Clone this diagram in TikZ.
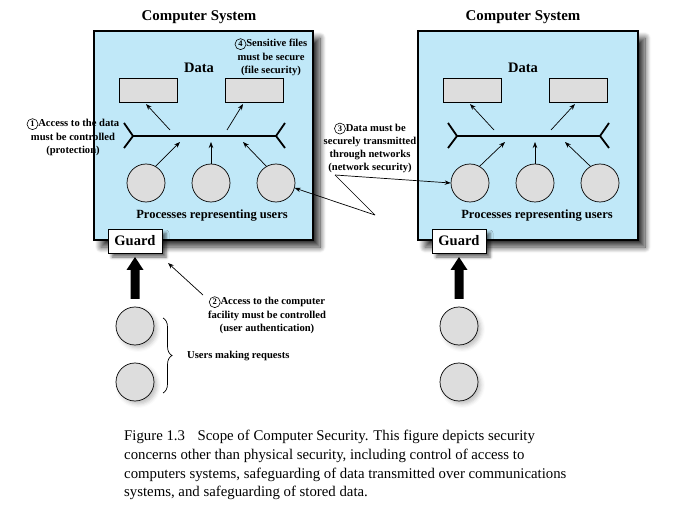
\documentclass[tikz,border=0pt]{standalone}
\usepackage{fontspec}
\setmainfont{Liberation Serif}
\usetikzlibrary{shadows.blur,decorations.pathreplacing,arrows.meta}
\definecolor{sysblue}{RGB}{192,232,248}
\definecolor{lgray}{RGB}{221,221,221}
\newcommand\cnum[1]{\tikz[baseline=(cn.base)]\node[circle,draw,line width=0.6pt,inner sep=0pt,minimum size=11pt,font=\fontsize{8.5}{8.5}\selectfont\bfseries](cn){#1};}
\tikzset{
  compbox/.style={draw,line width=1.6pt,fill=sysblue,minimum width=219pt,minimum height=209pt,inner sep=0pt,
    blur shadow={shadow xshift=7pt,shadow yshift=-7pt,shadow blur radius=6pt,shadow blur steps=12,shadow opacity=80}},
  databox/.style={draw,line width=0.6pt,fill=lgray,minimum width=58pt,minimum height=24pt,inner sep=0pt},
  proc/.style={circle,draw,line width=0.7pt,fill=lgray,minimum size=38pt,inner sep=0pt},
  usr/.style={circle,draw,line width=0.7pt,fill=lgray,minimum size=38pt,inner sep=0pt,
    blur shadow={shadow xshift=3pt,shadow yshift=-3pt,shadow blur radius=4pt,shadow opacity=25}},
  guardbox/.style={draw,line width=0.8pt,fill=white,minimum width=54pt,minimum height=24pt,inner sep=0pt,
    font=\fontsize{14.5}{14.5}\selectfont\bfseries,
    blur shadow={shadow xshift=4pt,shadow yshift=-4pt,shadow blur radius=3pt,shadow opacity=60}},
  title/.style={font=\fontsize{14.9}{14.9}\selectfont\bfseries},
  datalbl/.style={font=\fontsize{14.5}{14.5}\selectfont\bfseries},
  proclbl/.style={font=\fontsize{12.5}{12.5}\selectfont\bfseries},
  note/.style={align=center,font=\fontsize{10.6}{13.2}\selectfont\bfseries,inner sep=0pt},
  bus/.style={line width=1.6pt},
  busarm/.style={line width=1.8pt},
  arr/.style={line width=0.7pt,-{Stealth[length=6pt,width=4.5pt]}},
  thin/.style={line width=0.7pt},
  bigarrow/.style={fill=black,draw=none}
}
\begin{document}
\begin{tikzpicture}[x=1pt,y=-1pt]
\useasboundingbox (0,0) rectangle (673,508);

% ---- Left computer system
\node[compbox] (LS) at (203.5,135.5) {};
\node[title] (LT) at (199,17) {Computer System};
\node[datalbl] (LD) at (199,68) {Data};
\node[databox] (LR1) at (148,90) {};
\node[databox] (LR2) at (254.5,90) {};
\coordinate (LB1) at (133,136);
\coordinate (LB2) at (276,136);
\draw[bus] (LB1) -- (LB2);
\draw[busarm] (124,123) -- (LB1) -- (124,148);
\draw[busarm] (285,123) -- (LB2) -- (285,148);
\node[proc] (LP1) at (146,183) {};
\node[proc] (LP2) at (211,183) {};
\node[proc] (LP3) at (276,183) {};
\coordinate (LU1) at (170,130);
\coordinate (LU2) at (227,130);
\coordinate (LD1) at (180,142);
\coordinate (LD2) at (211,142);
\coordinate (LD3) at (243,142);
\draw[arr] (LU1) -- (146,104);
\draw[arr] (LU2) -- (243,104);
\draw[arr] (LP1.60) -- (LD1);
\draw[arr] (LP2.north) -- (LD2);
\draw[arr] (LP3.120) -- (LD3);
\node[proclbl] (LPL) at (212,216) {Processes representing users};
\node[guardbox] (LG) at (135,241) {Guard};

% ---- Right computer system
\node[compbox,minimum width=220pt] (RS) at (528,135.5) {};
\node[title] (RT) at (523,17) {Computer System};
\node[datalbl] (RD) at (523,68) {Data};
\node[databox] (RR1) at (472,90) {};
\node[databox] (RR2) at (578.5,90) {};
\coordinate (RB1) at (457,136);
\coordinate (RB2) at (600,136);
\draw[bus] (RB1) -- (RB2);
\draw[busarm] (448,123) -- (RB1) -- (448,148);
\draw[busarm] (609,123) -- (RB2) -- (609,148);
\node[proc] (RP1) at (470,183) {};
\node[proc] (RP2) at (535,183) {};
\node[proc] (RP3) at (600,183) {};
\coordinate (RU1) at (494,130);
\coordinate (RU2) at (551,130);
\coordinate (RD1) at (505,142);
\coordinate (RD2) at (535,142);
\coordinate (RD3) at (565,142);
\draw[arr] (RU1) -- (470,104);
\draw[arr] (RU2) -- (575,104);
\draw[arr] (RP1.60) -- (RD1);
\draw[arr] (RP2.north) -- (RD2);
\draw[arr] (RP3.120) -- (RD3);
\node[proclbl] (RPL) at (537,216) {Processes representing users};
\node[guardbox] (RG) at (459,241) {Guard};

% ---- Users
\node[usr] (LU1c) at (135,326) {};
\node[usr] (LU2c) at (135,382) {};
\node[usr] (RU1c) at (459,326) {};
\node[usr] (RU2c) at (459,382) {};
\fill[bigarrow] (130.5,299) -- (139.5,299) -- (139.5,270) -- (143.5,270) -- (135,257) -- (126.5,270) -- (130.5,270) -- cycle;
\fill[bigarrow] (454.5,299) -- (463.5,299) -- (463.5,270) -- (467.5,270) -- (459,257) -- (450.5,270) -- (454.5,270) -- cycle;
\coordinate (BrT) at (163,318);
\coordinate (BrB) at (163,393);
\draw[thin,decorate,decoration={brace,amplitude=9pt}] (BrT) -- (BrB);
\node[note,anchor=west] (UMR) at (187,356) {Users making requests};

% ---- Notes
\node[note] (N1) at (73,137) {\cnum{1}Access to the data\\must be controlled\\(protection)};
\node[note] (N4) at (271,57) {\cnum{4}Sensitive files\\must be secure\\(file security)};
\node[note] (N3) at (370,148) {\cnum{3}Data must be\\securely transmitted\\through networks\\(network security)};
\node[note] (N2) at (267,315) {\cnum{2}Access to the computer\\facility must be controlled\\(user authentication)};
\coordinate (A2) at (203,295);
\coordinate (G2) at (168,263);
\draw[arr] (A2) -- (G2);
\coordinate (CA) at (335,175);
\coordinate (CB) at (375,215);
\draw[arr] (CB) -- (LP3.-15);
\draw[thin] (CB) -- (CA);
\draw[arr] (CA) -- (RP1.west);

% ---- Caption
\node[anchor=north west,align=left,inner sep=0pt,font=\fontsize{14.8}{18.7}\selectfont] (CAP) at (124,430)
{Figure 1.3\hspace{0.6em} Scope of Computer Security. This figure depicts security\\
concerns other than physical security, including control of access to\\
computers systems, safeguarding of data transmitted over communications\\
systems, and safeguarding of stored data.};
\end{tikzpicture}
\end{document}
